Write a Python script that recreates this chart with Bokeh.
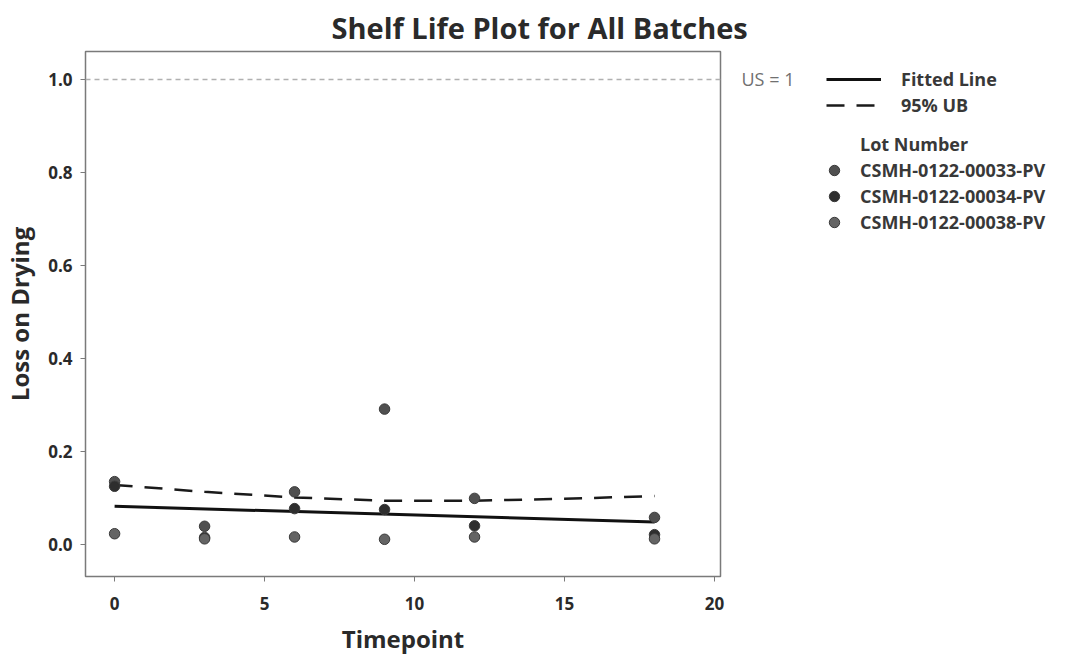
from bokeh.plotting import figure
from bokeh.layouts import row
from bokeh.models import (Range1d, FixedTicker, LinearAxis, Legend, LegendItem,
                          ColumnDataSource, Span, NumeralTickFormatter)
from bokeh.embed import file_html
from bokeh.resources import INLINE

# ---------------- data ----------------
timepoints = [0, 3, 6, 9, 12, 18]
lot_names = ["CSMH-0122-00033-PV", "CSMH-0122-00034-PV", "CSMH-0122-00038-PV"]
lot33 = [0.135, 0.039, 0.113, 0.291, 0.099, 0.058]
lot34 = [0.125, 0.015, 0.077, 0.075, 0.040, 0.021]
lot38 = [0.023, 0.012, 0.016, 0.011, 0.016, 0.012]
lot_colors = ["#505050", "#2e2e2e", "#646464"]

fit_x = [0, 18]
fit_y = [0.082, 0.048]
ub_x = [0, 3, 6, 9, 12, 15, 18]
ub_y = [0.128, 0.113, 0.101, 0.094, 0.094, 0.098, 0.104]

spec_limit = 1.0
x_ticks = [0, 5, 10, 15, 20]
y_ticks = [0.0, 0.2, 0.4, 0.6, 0.8, 1.0]

FONT = "Open Sans"
TXT = "#2a2a2a"
FIT_STYLE = dict(line_color="#111111", line_width=3)
UB_STYLE = dict(line_color="#1a1a1a", line_width=2.5, line_dash="18 12")
PT_STYLE = dict(size=10.5, line_color="#3a3a3a", line_width=1)

fit_src = ColumnDataSource(dict(x=fit_x, y=fit_y))
ub_src = ColumnDataSource(dict(x=ub_x, y=ub_y))
lot_srcs = [ColumnDataSource(dict(x=timepoints, y=v)) for v in (lot33, lot34, lot38)]

p = figure(frame_width=635, frame_height=525, output_backend="svg", toolbar_location=None,
           x_range=Range1d(-0.97, 20.2), y_range=Range1d(-0.069, 1.06),
           min_border_left=0, min_border_top=44, min_border_bottom=0,
           min_border_right=0)

p.title.text = "Shelf Life Plot for All Batches"
p.title.text_font = FONT
p.title.text_font_size = "29px"
p.title.text_font_style = "bold"
p.title.text_color = TXT
p.title.align = "left"
p.title.offset = 246

p.grid.visible = False
p.outline_line_color = "#7a7a7a"
p.outline_line_width = 1.5
p.background_fill_color = "white"

for ax in (p.xaxis[0], p.yaxis[0]):
    ax.axis_line_color = None
    ax.major_tick_line_color = "#7a7a7a"
    ax.major_tick_out = 5
    ax.major_tick_in = 0
    ax.minor_tick_line_color = None
    ax.major_label_text_font = FONT
    ax.major_label_text_font_size = "17px"
    ax.major_label_text_font_style = "bold"
    ax.major_label_text_color = TXT
    ax.axis_label_text_font = FONT
    ax.axis_label_text_font_size = "24px"
    ax.axis_label_text_font_style = "bold"
    ax.axis_label_text_color = TXT

p.xaxis[0].ticker = FixedTicker(ticks=x_ticks)
p.yaxis[0].ticker = FixedTicker(ticks=y_ticks)
p.yaxis[0].formatter = NumeralTickFormatter(format="0.0")
p.xaxis[0].axis_label = "Timepoint"
p.yaxis[0].axis_label = "Loss on Drying"
p.xaxis[0].major_label_standoff = 15
p.yaxis[0].major_label_standoff = 8
p.xaxis[0].axis_label_standoff = 9
p.yaxis[0].axis_label_standoff = 9

# spec line
p.add_layout(Span(location=spec_limit, dimension="width", line_color="#b0b0b0",
                  line_dash="5 4", line_width=1.5))

# right axis for "US = 1" label
us_axis = LinearAxis(ticker=FixedTicker(ticks=[spec_limit]),
                     major_label_overrides={spec_limit: "US = 1"})
us_axis.axis_line_color = None
us_axis.major_tick_line_color = None
us_axis.minor_tick_line_color = None
us_axis.major_label_text_font = FONT
us_axis.major_label_text_font_size = "18px"
us_axis.major_label_text_color = "#707070"
us_axis.major_label_standoff = 15
p.add_layout(us_axis, "right")

# lines
p.line("x", "y", source=fit_src, **FIT_STYLE)
p.line("x", "y", source=ub_src, **UB_STYLE)

# points
for src, col in zip(lot_srcs, lot_colors):
    p.scatter("x", "y", source=src, fill_color=col, **PT_STYLE)

# ---------------- legend panel ----------------
lg = figure(width=268, height=640, output_backend="svg", toolbar_location=None,
            x_range=Range1d(-0.97, 20.2), y_range=Range1d(-0.069, 1.06),
            min_border=0)
lg.axis.visible = False
lg.grid.visible = False
lg.outline_line_color = None

fit_k = lg.line("x", "y", source=fit_src, visible=False, **FIT_STYLE)
ub_k = lg.line("x", "y", source=ub_src, visible=False, **UB_STYLE)
hdr_k = lg.scatter("x", "y", source=lot_srcs[0], visible=False, size=1,
                   fill_alpha=0, line_alpha=0)
lot_k = [lg.scatter("x", "y", source=s, visible=False, fill_color=c, **PT_STYLE)
         for s, c in zip(lot_srcs, lot_colors)]


def style(l):
    l.label_text_font = FONT
    l.label_text_font_size = "18px"
    l.label_text_font_style = "bold"
    l.label_text_color = "#383838"
    l.border_line_color = None
    l.background_fill_alpha = 0
    l.inactive_fill_alpha = 0
    l.glyph_height = 26
    l.label_height = 26
    l.spacing = 0
    l.padding = 0
    l.margin = 0
    l.click_policy = "none"


legend_a = Legend(items=[LegendItem(label="Fitted Line", renderers=[fit_k]),
                         LegendItem(label="95% UB", renderers=[ub_k])],
                  location=(29, 441))
style(legend_a)
legend_a.glyph_width = 55
legend_a.label_standoff = 20
lg.add_layout(legend_a)

items_b = [LegendItem(label="Lot Number", renderers=[hdr_k])]
items_b += [LegendItem(label=n, renderers=[r]) for n, r in zip(lot_names, lot_k)]
legend_b = Legend(items=items_b, location=(24, 324))
style(legend_b)
legend_b.glyph_width = 26
legend_b.label_standoff = 13
lg.add_layout(legend_b)

open("out.html", "w").write(file_html(row(p, lg), INLINE))
